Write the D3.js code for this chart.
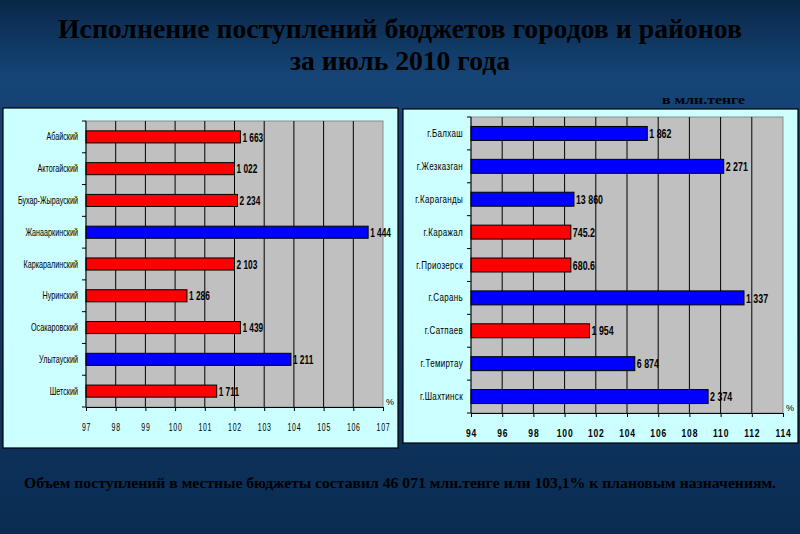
<!DOCTYPE html>
<meta charset="utf-8">
<title>budget</title>
<head>
<style>
body { margin: 0; background: #0c2f58; }
svg { display: block; }
.title { font-family: "Liberation Serif", "Times New Roman", serif; font-weight: bold; fill: #000; }
.cat { font-family: "Liberation Sans", Arial, sans-serif; font-size: 10px; fill: #000; }
.val { font-family: "Liberation Sans", Arial, sans-serif; font-size: 13px; font-weight: bold; fill: #000; }
.tick text { font-family: "Liberation Sans", Arial, sans-serif; font-size: 10px; fill: #000; }
.bar { stroke: #000; stroke-width: 1; }
</style>
</head>
<body>
<div id="chart"></div>
<script src="https://cdn.jsdelivr.net/npm/d3@7"></script>
<script>
// districts (left chart), % of plan and amount in mln tenge
var districts = ["Абайский","Актогайский","Бухар-Жырауский","Жанааркинский","Каркаралинский","Нуринский","Осакаровский","Улытауский","Шетский"];
var districtPct = [102.2, 102.0, 102.1, 106.5, 102.0, 100.4, 102.2, 103.9, 101.4];
var districtSum = ["1 663","1 022","2 234","1 444","2 103","1 286","1 439","1 211","1 711"];
var districtColor = ["red","red","red","blue","red","red","red","blue","red"];
var districtTicks = [97,98,99,100,101,102,103,104,105,106,107];

// cities (right chart)
var cities = ["г.Балхаш","г.Жезказган","г.Караганды","г.Каражал","г.Приозерск","г.Сарань","г.Сатпаев","г.Темиртау","г.Шахтинск"];
var cityPct = [105.3, 110.2, 100.6, 100.4, 100.4, 111.5, 101.6, 104.5, 109.2];
var citySum = ["1 862","2 271","13 860","745.2","680.6","1 337","1 954","6 874","2 374"];
var cityColor = ["blue","blue","blue","red","red","blue","red","blue","blue"];
var cityTicks = [94,96,98,100,102,104,106,108,110,112,114];

var colors = {red: "#ff0000", blue: "#0000ff"};

var W = 800, H = 534;
var svg = d3.select("#chart").append("svg")
    .attr("width", W)
    .attr("height", H);

var defs = svg.append("defs");
var grad = defs.append("linearGradient")
    .attr("id", "bg")
    .attr("x1", 0).attr("y1", 0).attr("x2", 0).attr("y2", 1);
grad.append("stop").attr("offset", "0%").attr("stop-color", "#0a2747");
grad.append("stop").attr("offset", "14%").attr("stop-color", "#154476");
grad.append("stop").attr("offset", "45%").attr("stop-color", "#123e6d");
grad.append("stop").attr("offset", "100%").attr("stop-color", "#0a2c52");

svg.append("rect")
    .attr("width", W).attr("height", H)
    .attr("fill", "url(#bg)");

// titles
svg.append("text")
    .attr("class", "title")
    .attr("x", 400).attr("y", 38)
    .attr("text-anchor", "middle")
    .attr("font-size", 27)
    .attr("textLength", 684)
    .attr("lengthAdjust", "spacingAndGlyphs")
    .text("Исполнение поступлений бюджетов городов и районов");
svg.append("text")
    .attr("class", "title")
    .attr("x", 400).attr("y", 70)
    .attr("text-anchor", "middle")
    .attr("font-size", 27)
    .attr("textLength", 220)
    .attr("lengthAdjust", "spacingAndGlyphs")
    .text("за июль 2010 года");
svg.append("text")
    .attr("class", "title")
    .attr("x", 745).attr("y", 104)
    .attr("text-anchor", "end")
    .attr("font-size", 13)
    .attr("textLength", 83)
    .attr("lengthAdjust", "spacingAndGlyphs")
    .text("в млн.тенге");
svg.append("text")
    .attr("class", "title")
    .attr("x", 400).attr("y", 488)
    .attr("text-anchor", "middle")
    .attr("font-size", 15)
    .attr("textLength", 752)
    .attr("lengthAdjust", "spacingAndGlyphs")
    .text("Объем поступлений в местные бюджеты составил 46 071 млн.тенге или 103,1% к плановым назначениям.");

function drawChart(opt) {
  var g = svg.append("g");

  g.append("rect")
      .attr("x", opt.box[0]).attr("y", opt.box[1])
      .attr("width", opt.box[2]).attr("height", opt.box[3])
      .attr("fill", "#ccffff")
      .attr("stroke", "#000")
      .attr("stroke-width", 1.2);

  var x = d3.scaleLinear()
      .domain([opt.ticks[0], opt.ticks[opt.ticks.length - 1]])
      .range([opt.plot[0], opt.plot[1]]);
  var y = d3.scaleBand()
      .domain(opt.cats)
      .range([opt.plot[2], opt.plot[3]])
      .paddingInner(opt.pad)
      .paddingOuter(opt.pad / 2);

  // plot area
  g.append("rect")
      .attr("x", x.range()[0]).attr("y", y.range()[0])
      .attr("width", x.range()[1] - x.range()[0])
      .attr("height", y.range()[1] - y.range()[0])
      .attr("fill", "#c0c0c0")
      .attr("stroke", "#8c8c8c")
      .attr("stroke-width", 1);

  // vertical grid
  g.append("g").selectAll("line")
      .data(opt.ticks.slice(1, -1))
    .enter().append("line")
      .attr("x1", function(d) { return x(d); })
      .attr("x2", function(d) { return x(d); })
      .attr("y1", y.range()[0])
      .attr("y2", y.range()[1])
      .attr("stroke", "#000")
      .attr("stroke-width", 1);

  // bars
  g.append("g").selectAll("rect")
      .data(opt.cats)
    .enter().append("rect")
      .attr("class", "bar")
      .attr("x", x.range()[0])
      .attr("y", function(d) { return y(d); })
      .attr("width", function(d, i) { return x(opt.pct[i]) - x.range()[0]; })
      .attr("height", y.bandwidth())
      .attr("fill", function(d, i) { return colors[opt.color[i]]; });

  // value labels (squeezed to look like a narrow font)
  g.append("g").selectAll("text")
      .data(opt.cats)
    .enter().append("text")
      .attr("class", "val")
      .attr("transform", function(d, i) {
        return "translate(" + (x(opt.pct[i]) + 2) + "," + (y(d) + y.bandwidth() / 2) + ") scale(" + opt.valScale + ",1)";
      })
      .attr("dy", "0.36em")
      .text(function(d, i) { return opt.sum[i]; });

  // category axis: line, ticks at band boundaries, labels
  var step = y.step();
  var bounds = d3.range(opt.cats.length + 1).map(function(i) { return y.range()[0] + i * step; });
  g.append("line")
      .attr("x1", x.range()[0]).attr("x2", x.range()[0])
      .attr("y1", y.range()[0]).attr("y2", y.range()[1])
      .attr("stroke", "#000");
  g.append("g").selectAll("line")
      .data(bounds)
    .enter().append("line")
      .attr("x1", x.range()[0] - 4).attr("x2", x.range()[0])
      .attr("y1", function(d) { return d; })
      .attr("y2", function(d) { return d; })
      .attr("stroke", "#000");
  g.append("g").selectAll("text")
      .data(opt.cats)
    .enter().append("text")
      .attr("class", "cat")
      .attr("transform", function(d) {
        return "translate(" + (x.range()[0] - 8) + "," + (y(d) + y.bandwidth() / 2) + ") scale(" + opt.catScale + ",1)";
      })
      .attr("dy", "0.35em")
      .attr("text-anchor", "end")
      .style("letter-spacing", opt.catSpacing)
      .text(function(d) { return d; });

  // value axis
  var ax = g.append("g")
      .attr("transform", "translate(0," + y.range()[1] + ")")
      .call(d3.axisBottom(x).tickValues(opt.ticks).tickSize(4).tickSizeOuter(0).tickPadding(13));
  ax.select(".domain").attr("stroke", "#000");
  ax.selectAll(".tick line").attr("stroke", "#000");
  ax.selectAll(".tick text")
      .attr("transform", "scale(" + opt.tickScale + ",1)")
      .style("font-weight", opt.tickWeight)
      .style("letter-spacing", opt.tickSpacing);

  g.append("text")
      .attr("class", "cat")
      .attr("x", x.range()[1] + 3)
      .attr("y", y.range()[1] - 2)
      .style("font-size", "9px")
      .text("%");
}

drawChart({
  box: [3, 108, 395, 340],
  plot: [86, 383, 121, 407],
  pad: 0.62,
  cats: districts, pct: districtPct, sum: districtSum, color: districtColor,
  ticks: districtTicks,
  catScale: 0.72, catSpacing: "0px",
  valScale: 0.64,
  tickScale: 0.7, tickWeight: "normal", tickSpacing: "1px"
});

drawChart({
  box: [403, 109, 395, 334],
  plot: [471, 783, 117, 413],
  pad: 0.575,
  cats: cities, pct: cityPct, sum: citySum, color: cityColor,
  ticks: cityTicks,
  catScale: 0.8, catSpacing: "0.4px",
  valScale: 0.68,
  tickScale: 0.85, tickWeight: "bold", tickSpacing: "1px"
});
</script>
</body>
</html>
